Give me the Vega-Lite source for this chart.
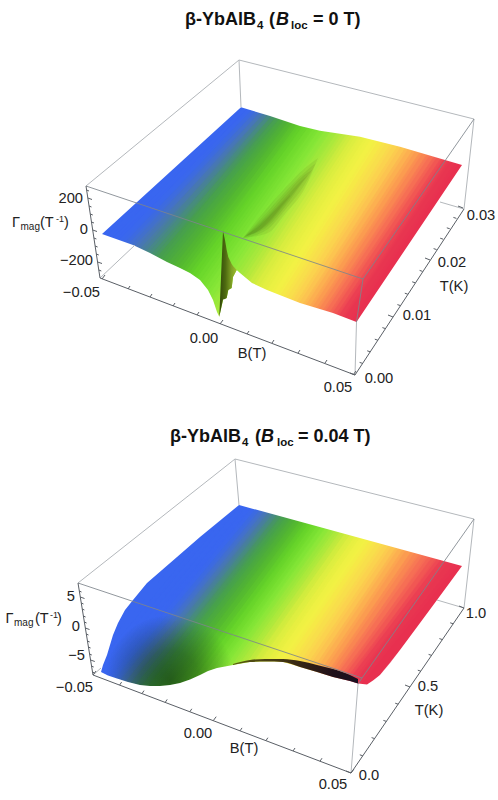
{"$schema":"https://vega.github.io/schema/vega-lite/v6.json","width":498,"height":800,"autosize":{"type":"fit","contains":"padding"},"padding":0,"background":"white","config":{"view":{"stroke":null},"text":{"font":"Liberation Sans"}},
"datasets":{"bandsA":[{"B":-0.05,"x":88,"y":247,"x2":255,"y2":94},{"B":-0.0475,"x":94.4,"y":249.3,"x2":258.5,"y2":94.9},{"B":-0.045,"x":100.9,"y":251.6,"x2":262.2,"y2":95.8},{"B":-0.0425,"x":107.3,"y":253.8,"x2":265.7,"y2":96.7},{"B":-0.04,"x":113.7,"y":256.1,"x2":269.2,"y2":97.6},{"B":-0.0375,"x":120.1,"y":258.4,"x2":273,"y2":98.5},{"B":-0.035,"x":126.6,"y":260.7,"x2":276.8,"y2":99.5},{"B":-0.0325,"x":133,"y":262.9,"x2":280.6,"y2":100.5},{"B":-0.03,"x":139.4,"y":265.2,"x2":284.4,"y2":101.4},{"B":-0.0275,"x":145.8,"y":267.5,"x2":288.1,"y2":102.4},{"B":-0.025,"x":152.3,"y":269.8,"x2":292.1,"y2":103.4},{"B":-0.0225,"x":158.7,"y":272,"x2":296.2,"y2":104.4},{"B":-0.02,"x":165.1,"y":274.3,"x2":300.3,"y2":105.4},{"B":-0.0175,"x":171.5,"y":276.6,"x2":304.7,"y2":106.5},{"B":-0.015,"x":178,"y":278.9,"x2":308.8,"y2":107.6},{"B":-0.0125,"x":162.5,"y":310.4,"x2":313,"y2":108.6},{"B":-0.01,"x":169.3,"y":312.9,"x2":317.1,"y2":109.7},{"B":-0.0075,"x":175.9,"y":315.4,"x2":322.4,"y2":111},{"B":-0.005,"x":182.6,"y":318,"x2":327.6,"y2":112.3},{"B":-0.0025,"x":189.2,"y":320.2,"x2":332.8,"y2":113.6},{"B":0,"x":195.8,"y":322.7,"x2":338.3,"y2":115},{"B":0.0025,"x":202.4,"y":325.2,"x2":343.5,"y2":116.3},{"B":0.005,"x":209.2,"y":327.5,"x2":348.7,"y2":117.7},{"B":0.0075,"x":215.6,"y":330,"x2":354.6,"y2":119.1},{"B":0.01,"x":222.1,"y":332.4,"x2":360.3,"y2":120.6},{"B":0.0125,"x":228.6,"y":334.8,"x2":366.2,"y2":122},{"B":0.015,"x":235.2,"y":337.3,"x2":372.1,"y2":123.5},{"B":0.0175,"x":261.5,"y":308.4,"x2":377.7,"y2":125},{"B":0.02,"x":267.9,"y":310.7,"x2":383.6,"y2":126.5},{"B":0.0225,"x":274.3,"y":313,"x2":391.3,"y2":128.4},{"B":0.025,"x":280.8,"y":315.3,"x2":398.9,"y2":130.3},{"B":0.0275,"x":287.2,"y":317.5,"x2":406.5,"y2":132.2},{"B":0.03,"x":293.6,"y":319.8,"x2":414.1,"y2":134.2},{"B":0.0325,"x":300,"y":322.1,"x2":421.8,"y2":136.1},{"B":0.035,"x":306.5,"y":324.4,"x2":429.4,"y2":138},{"B":0.0375,"x":312.9,"y":326.6,"x2":436.6,"y2":139.8},{"B":0.04,"x":319.3,"y":328.9,"x2":444,"y2":141.7},{"B":0.0425,"x":325.7,"y":331.2,"x2":451.2,"y2":143.5},{"B":0.045,"x":332.2,"y":333.5,"x2":458.4,"y2":145.3},{"B":0.0475,"x":338.6,"y":335.7,"x2":465.8,"y2":147.2},{"B":0.05,"x":345,"y":338,"x2":473,"y2":149}],
"bandsB":[{"B":-0.05,"x":59.2,"y":665.6,"x2":224.8,"y2":465.2},{"B":-0.05,"x":63.2,"y":668.9,"x2":228.8,"y2":468.5},{"B":-0.05,"x":67.2,"y":672.2,"x2":232.8,"y2":471.8},{"B":-0.05,"x":71.2,"y":675.5,"x2":236.8,"y2":475.1},{"B":-0.05,"x":75.2,"y":678.8,"x2":240.8,"y2":478.4},{"B":-0.05,"x":79.2,"y":682.1,"x2":244.8,"y2":481.7},{"B":-0.05,"x":83.2,"y":685.4,"x2":248.8,"y2":485},{"B":-0.05,"x":87.2,"y":688.7,"x2":252.8,"y2":488.3},{"B":-0.0475,"x":92.8,"y":688.8,"x2":257.8,"y2":489.8},{"B":-0.045,"x":98.3,"y":689,"x2":262.7,"y2":491.2},{"B":-0.0425,"x":103.9,"y":689.1,"x2":267.7,"y2":492.7},{"B":-0.04,"x":109.4,"y":689.2,"x2":272.6,"y2":494.3},{"B":-0.0375,"x":115.8,"y":689.4,"x2":276.7,"y2":495.4},{"B":-0.035,"x":122.1,"y":689.6,"x2":280.9,"y2":496.7},{"B":-0.0325,"x":128.5,"y":689.8,"x2":285.1,"y2":498},{"B":-0.03,"x":134.8,"y":690,"x2":289.2,"y2":499.3},{"B":-0.0275,"x":141.1,"y":690.1,"x2":293.4,"y2":500.6},{"B":-0.025,"x":147.5,"y":690.3,"x2":297.5,"y2":501.9},{"B":-0.0225,"x":154.4,"y":690.5,"x2":301.8,"y2":503.2},{"B":-0.02,"x":161.2,"y":690.7,"x2":306.1,"y2":504.5},{"B":-0.0175,"x":168.2,"y":690.9,"x2":310.4,"y2":505.9},{"B":-0.015,"x":175.1,"y":691.1,"x2":314.6,"y2":507.2},{"B":-0.0125,"x":181.9,"y":691.3,"x2":318.9,"y2":508.5},{"B":-0.01,"x":188.8,"y":691.7,"x2":323.2,"y2":509.9},{"B":-0.0075,"x":194.2,"y":691.8,"x2":327.3,"y2":511},{"B":-0.005,"x":199.7,"y":692,"x2":331.3,"y2":512.2},{"B":-0.0025,"x":205.2,"y":692.1,"x2":335.4,"y2":513.5},{"B":0,"x":210.6,"y":692.3,"x2":339.4,"y2":514.7},{"B":0.0025,"x":216.1,"y":692.4,"x2":343.4,"y2":516},{"B":0.005,"x":221.5,"y":692.5,"x2":347.5,"y2":517.2},{"B":0.0075,"x":227.9,"y":692.7,"x2":352.4,"y2":518.7},{"B":0.01,"x":234.5,"y":692.9,"x2":357.2,"y2":520.1},{"B":0.0125,"x":240.9,"y":693.1,"x2":362.1,"y2":521.6},{"B":0.015,"x":247.3,"y":693.2,"x2":367,"y2":523.1},{"B":0.0175,"x":253.9,"y":693.4,"x2":371.8,"y2":524.5},{"B":0.02,"x":260.3,"y":693.6,"x2":376.7,"y2":526},{"B":0.0225,"x":269.2,"y":693.8,"x2":383.8,"y2":528.2},{"B":0.025,"x":277.9,"y":694.1,"x2":390.7,"y2":530.3},{"B":0.0275,"x":286.8,"y":694.3,"x2":397.8,"y2":532.4},{"B":0.03,"x":295.6,"y":694.5,"x2":404.8,"y2":534.6},{"B":0.0325,"x":304.4,"y":694.8,"x2":411.8,"y2":536.6},{"B":0.035,"x":313.2,"y":695,"x2":418.8,"y2":538.8},{"B":0.0375,"x":320.6,"y":695.1,"x2":427.6,"y2":541.3},{"B":0.04,"x":328,"y":695.2,"x2":436.3,"y2":543.9},{"B":0.0425,"x":335.4,"y":695.4,"x2":445.2,"y2":546.5},{"B":0.045,"x":342.7,"y":695.5,"x2":454,"y2":549.1},{"B":0.0475,"x":350.1,"y":695.6,"x2":462.7,"y2":551.6},{"B":0.05,"x":357.5,"y":695.8,"x2":471.5,"y2":554.2},{"B":0.05,"x":366,"y":700,"x2":479,"y2":558}]},
"encoding":{"x":{"field":"x","type":"quantitative","scale":{"domain":[0,498],"nice":false,"zero":false},"axis":null},"y":{"field":"y","type":"quantitative","scale":{"domain":[800,0],"nice":false,"zero":false},"axis":null}},
"layer":[
{"data":{"name":"bandsA"},"mark":{"type":"rule","strokeWidth":9,"strokeCap":"butt"},"encoding":{"x2":{"field":"x2"},"y2":{"field":"y2"},"color":{"field":"B","type":"quantitative","legend":null,"scale":{"domain":[-0.05,-0.041,-0.034,-0.025,-0.017,-0.01,0,0.005,0.012,0.02,0.028,0.034,0.04,0.045,0.05],"range":["#3a66f0","#3a66f0","#4a78b0","#47a04a","#55b830","#66d628","#8be83a","#a8e83c","#dcee40","#f4f245","#fcd050","#fca050","#f56a55","#ea3a52","#e8304f"],"interpolate":"rgb"}}}},
{"data":{"name":"bandsB"},"mark":{"type":"rule","strokeWidth":9,"strokeCap":"butt"},"encoding":{"x2":{"field":"x2"},"y2":{"field":"y2"},"color":{"field":"B","type":"quantitative","legend":null}}},
{"data":{"name":"bandsA"},"mark":{"type":"rule","strokeWidth":15,"strokeCap":"butt","opacity":0.35},"encoding":{"x2":{"field":"x2"},"y2":{"field":"y2"},"color":{"field":"B","type":"quantitative","legend":null}}},
{"data":{"name":"bandsB"},"mark":{"type":"rule","strokeWidth":15,"strokeCap":"butt","opacity":0.35},"encoding":{"x2":{"field":"x2"},"y2":{"field":"y2"},"color":{"field":"B","type":"quantitative","legend":null}}},
{"data":{"values":[{"x":105,"y":615,"y2":745},{"x":235,"y":615,"y2":745}]},"mark":{"type":"area","fill":{"gradient":"radial","x1":0.5,"y1":0.5,"r1":0,"x2":0.5,"y2":0.5,"r2":0.5,"stops":[{"offset":0,"color":"rgba(10,40,10,0.62)"},{"offset":0.45,"color":"rgba(10,40,10,0.42)"},{"offset":1,"color":"rgba(10,40,10,0)"}]}},"encoding":{"y2":{"field":"y2"}}},
{"data":{"values":[{"level":"a","x":243,"y":238,"y2":238},{"level":"a","x":268,"y":207,"y2":233},{"level":"a","x":285,"y":188,"y2":214},{"level":"a","x":305,"y":168,"y2":188},{"level":"a","x":318,"y":158,"y2":158},{"level":"b","x":243,"y":238,"y2":238},{"level":"b","x":268,"y":211,"y2":229},{"level":"b","x":285,"y":192,"y2":210},{"level":"b","x":305,"y":172,"y2":184},{"level":"b","x":316,"y":163,"y2":163},{"level":"c","x":244,"y":237,"y2":237},{"level":"c","x":268,"y":214,"y2":226},{"level":"c","x":285,"y":195,"y2":207},{"level":"c","x":303,"y":176,"y2":182},{"level":"c","x":312,"y":170,"y2":170},{"level":"d","x":245,"y":237,"y2":237},{"level":"d","x":268,"y":216,"y2":224},{"level":"d","x":285,"y":198,"y2":204},{"level":"d","x":300,"y":182,"y2":185},{"level":"d","x":308,"y":175,"y2":175},{"level":"e","x":246,"y":235.5,"y2":235.5},{"level":"e","x":258,"y":227,"y2":231},{"level":"e","x":268,"y":217.5,"y2":222.5},{"level":"e","x":278,"y":207,"y2":211},{"level":"e","x":290,"y":195,"y2":196}]},"mark":{"type":"area","fill":"#2c3000","interpolate":"monotone"},"encoding":{"y2":{"field":"y2"},"opacity":{"field":"level","type":"ordinal","legend":null,"scale":{"domain":["a","b","c","d","e"],"range":[0.07,0.08,0.1,0.14,0.3]}}}},
{"data":{"values":[{"x":40,"y":80,"y2":236},{"x":102,"y":80,"y2":234},{"x":241,"y":80,"y2":107.3},{"x":270,"y":80,"y2":116},{"x":300,"y":80,"y2":126},{"x":320,"y":80,"y2":130.7},{"x":360,"y":80,"y2":136.7},{"x":400,"y":80,"y2":146.7},{"x":462,"y":80,"y2":165},{"x":495,"y":80,"y2":167}]},"mark":{"type":"area","fill":"white"},"encoding":{"y2":{"field":"y2"}}},
{"data":{"values":[{"x":40,"y":232,"y2":350},{"x":102,"y":234,"y2":350},{"x":133,"y":245,"y2":350},{"x":150,"y":253,"y2":350},{"x":167,"y":262,"y2":350},{"x":180,"y":268,"y2":350},{"x":190,"y":273,"y2":350},{"x":200,"y":280,"y2":350},{"x":208,"y":290,"y2":350},{"x":213,"y":300,"y2":350},{"x":217,"y":312,"y2":350},{"x":219.3,"y":316.7,"y2":350},{"x":223.3,"y":299,"y2":350},{"x":226.7,"y":298,"y2":350},{"x":228.3,"y":290,"y2":350},{"x":231.7,"y":288,"y2":350},{"x":233,"y":277,"y2":350},{"x":236.7,"y":270,"y2":350},{"x":240,"y":273,"y2":350},{"x":252,"y":283,"y2":350},{"x":267,"y":290,"y2":350},{"x":300,"y":303,"y2":350},{"x":333,"y":313,"y2":350},{"x":356.5,"y":322,"y2":350},{"x":462,"y":165,"y2":350},{"x":495,"y":163,"y2":350}]},"mark":{"type":"area","fill":"white"},"encoding":{"y2":{"field":"y2"}}},
{"data":{"values":[{"x":219.3,"y":316.7,"y2":316.7},{"x":223,"y":231,"y2":299.5},{"x":225,"y":240,"y2":299},{"x":226.7,"y":250,"y2":298},{"x":228.3,"y":257,"y2":290},{"x":231.7,"y":264,"y2":288},{"x":233,"y":266,"y2":277},{"x":236.7,"y":270,"y2":270}]},"mark":{"type":"area","fill":{"gradient":"linear","x1":0,"y1":0,"x2":1,"y2":0,"stops":[{"offset":0,"color":"#33480a"},{"offset":0.35,"color":"#4d6a10"},{"offset":0.7,"color":"#7ea024"},{"offset":1,"color":"#9fbc30"}]}},"encoding":{"y2":{"field":"y2"}}},
{"data":{"values":[{"x":40,"y":450,"y2":674},{"x":101,"y":450,"y2":672},{"x":103,"y":450,"y2":665},{"x":105,"y":450,"y2":660},{"x":107,"y":450,"y2":655},{"x":110,"y":450,"y2":645},{"x":113,"y":450,"y2":635},{"x":118,"y":450,"y2":623},{"x":125,"y":450,"y2":610},{"x":133,"y":450,"y2":600},{"x":147,"y":450,"y2":583},{"x":162,"y":450,"y2":570},{"x":177,"y":450,"y2":557},{"x":200,"y":450,"y2":537},{"x":239,"y":450,"y2":505},{"x":462,"y":450,"y2":566},{"x":495,"y":450,"y2":568}]},"mark":{"type":"area","fill":"white"},"encoding":{"y2":{"field":"y2"}}},
{"data":{"values":[{"x":40,"y":670,"y2":750},{"x":101,"y":672,"y2":750},{"x":108,"y":675.5,"y2":750},{"x":117,"y":678.5,"y2":750},{"x":128,"y":682,"y2":750},{"x":140,"y":685,"y2":750},{"x":150,"y":686,"y2":750},{"x":160,"y":686,"y2":750},{"x":170,"y":685,"y2":750},{"x":180,"y":683,"y2":750},{"x":190,"y":679.5,"y2":750},{"x":200,"y":675,"y2":750},{"x":208,"y":671,"y2":750},{"x":217,"y":668,"y2":750},{"x":225,"y":666.5,"y2":750},{"x":233,"y":665,"y2":750},{"x":250,"y":662,"y2":750},{"x":265,"y":661.5,"y2":750},{"x":275,"y":661.5,"y2":750},{"x":283,"y":662,"y2":750},{"x":292,"y":664.5,"y2":750},{"x":300,"y":667,"y2":750},{"x":317,"y":672,"y2":750},{"x":333,"y":677,"y2":750},{"x":350,"y":681,"y2":750},{"x":358,"y":683.5,"y2":750},{"x":367,"y":684.5,"y2":750},{"x":373,"y":680.5,"y2":750},{"x":380,"y":675,"y2":750},{"x":390,"y":663,"y2":750},{"x":400,"y":650,"y2":750},{"x":420,"y":623,"y2":750},{"x":437,"y":600,"y2":750},{"x":462,"y":566,"y2":750},{"x":495,"y":564,"y2":750}]},"mark":{"type":"area","fill":"white"},"encoding":{"y2":{"field":"y2"}}},
{"data":{"values":[{"x":233,"y":664,"y2":665},{"x":250,"y":660,"y2":662},{"x":265,"y":659,"y2":661.5},{"x":283,"y":659,"y2":662},{"x":300,"y":661,"y2":667},{"x":317,"y":665,"y2":672},{"x":333,"y":669,"y2":677},{"x":350,"y":675,"y2":681},{"x":358,"y":679,"y2":683.5}]},"mark":{"type":"area","interpolate":"monotone","fill":{"gradient":"linear","x1":0,"y1":0,"x2":1,"y2":0,"stops":[{"offset":0,"color":"#5a5a10"},{"offset":0.5,"color":"#3a2a14"},{"offset":0.8,"color":"#20101a"},{"offset":1,"color":"#1a1020"}]}},"encoding":{"y2":{"field":"y2"}}},
{"data":{"values":[{"x":239,"y":60,"x2":241,"y2":107},{"x":239,"y":60,"x2":86,"y2":186},{"x":239,"y":60,"x2":474,"y2":119},{"x":474,"y":119,"x2":464,"y2":209},{"x":464,"y":209,"x2":440,"y2":202},{"x":100,"y":278,"x2":135,"y2":245},{"x":356.5,"y":322,"x2":355,"y2":375},{"x":235,"y":459,"x2":239,"y2":505},{"x":235,"y":459,"x2":78,"y2":583},{"x":235,"y":459,"x2":474,"y2":519},{"x":474,"y":519,"x2":464,"y2":608},{"x":464,"y":608,"x2":437,"y2":600},{"x":93,"y":675,"x2":101,"y2":668},{"x":358,"y":684,"x2":351,"y2":773}]},"mark":{"type":"rule","stroke":"#b4b8bc","strokeWidth":1},"encoding":{"x2":{"field":"x2"},"y2":{"field":"y2"}}},
{"data":{"values":[{"x":86,"y":186,"x2":363,"y2":279},{"x":363,"y":279,"x2":474,"y2":119},{"x":363,"y":279,"x2":356.5,"y2":322},{"x":78,"y":583,"x2":362,"y2":678},{"x":362,"y":678,"x2":474,"y2":519},{"x":362,"y":678,"x2":358,"y2":684}]},"mark":{"type":"rule","stroke":"#7e858c","strokeWidth":1,"opacity":0.85},"encoding":{"x2":{"field":"x2"},"y2":{"field":"y2"}}},
{"data":{"values":[{"x":86,"y":186,"x2":100,"y2":278},{"x":100,"y":278,"x2":355,"y2":375},{"x":355,"y":375,"x2":464,"y2":209},{"x":78,"y":583,"x2":93,"y2":675},{"x":93,"y":675,"x2":351,"y2":773},{"x":351,"y":773,"x2":464,"y2":608},
{"x":102,"y":279,"x2":105,"y2":275},{"x":128,"y":289,"x2":130,"y2":286},{"x":150,"y":297,"x2":152,"y2":294},{"x":173,"y":306,"x2":175,"y2":303},{"x":197,"y":315,"x2":199,"y2":312},{"x":220,"y":324,"x2":223,"y2":320},{"x":247,"y":334,"x2":249,"y2":331},{"x":272,"y":343,"x2":274,"y2":340},{"x":298,"y":353,"x2":300,"y2":350},{"x":325,"y":363,"x2":327,"y2":360},{"x":353,"y":375,"x2":356,"y2":371},
{"x":355,"y":375,"x2":350,"y2":373},{"x":362.6,"y":363.4,"x2":359.6,"y2":362.4},{"x":370.2,"y":351.8,"x2":367.2,"y2":350.8},{"x":377.8,"y":340.2,"x2":374.8,"y2":339.2},{"x":385.4,"y":328.6,"x2":382.4,"y2":327.6},{"x":393,"y":317,"x2":388,"y2":315},{"x":400.4,"y":305.6,"x2":397.4,"y2":304.6},{"x":407.8,"y":294.2,"x2":404.8,"y2":293.2},{"x":415.2,"y":282.8,"x2":412.2,"y2":281.8},{"x":422.6,"y":271.4,"x2":419.6,"y2":270.4},{"x":430,"y":260,"x2":425,"y2":258},{"x":436.6,"y":249.6,"x2":433.6,"y2":248.6},{"x":443.2,"y":239.2,"x2":440.2,"y2":238.2},{"x":449.8,"y":228.8,"x2":446.8,"y2":227.8},{"x":456.4,"y":218.4,"x2":453.4,"y2":217.4},{"x":463,"y":208,"x2":458,"y2":206},
{"x":86.6,"y":190,"x2":89,"y2":191},{"x":87.8,"y":198,"x2":92,"y2":199.5},{"x":89,"y":206,"x2":91.5,"y2":207},{"x":90.3,"y":214,"x2":92.8,"y2":215},{"x":91.5,"y":222,"x2":94,"y2":223},{"x":92.7,"y":230,"x2":97,"y2":231.5},{"x":93.9,"y":238,"x2":96.4,"y2":239},{"x":95.1,"y":246,"x2":97.6,"y2":247},{"x":96.3,"y":254,"x2":98.8,"y2":255},{"x":97.6,"y":262,"x2":102,"y2":263.5},{"x":98.8,"y":270,"x2":101.3,"y2":271},
{"x":93,"y":675,"x2":96,"y2":671},{"x":119.6,"y":685.1,"x2":121.6,"y2":682.1},{"x":142,"y":693.6,"x2":144,"y2":690.6},{"x":165.2,"y":702.4,"x2":167.2,"y2":699.4},{"x":189.8,"y":711.8,"x2":191.8,"y2":708.8},{"x":213.2,"y":720.7,"x2":216.2,"y2":716.7},{"x":240,"y":730.9,"x2":242,"y2":727.9},{"x":265.9,"y":740.7,"x2":267.9,"y2":737.7},{"x":293,"y":751,"x2":295,"y2":748},{"x":320,"y":761.2,"x2":322,"y2":758.2},{"x":351,"y":773,"x2":354,"y2":769},
{"x":351,"y":773,"x2":346,"y2":771},{"x":362.8,"y":755.8,"x2":359.8,"y2":754.8},{"x":374.6,"y":738.6,"x2":371.6,"y2":737.6},{"x":386.4,"y":721.4,"x2":383.4,"y2":720.4},{"x":398.2,"y":704.2,"x2":395.2,"y2":703.2},{"x":410,"y":687,"x2":405,"y2":685},{"x":420.8,"y":671.2,"x2":417.8,"y2":670.2},{"x":431.6,"y":655.4,"x2":428.6,"y2":654.4},{"x":442.4,"y":639.6,"x2":439.4,"y2":638.6},{"x":453.2,"y":623.8,"x2":450.2,"y2":622.8},{"x":464,"y":608,"x2":459,"y2":606},
{"x":79.3,"y":591,"x2":81.5,"y2":592},{"x":80.3,"y":597,"x2":84.5,"y2":598.5},{"x":81.3,"y":603,"x2":83.5,"y2":604},{"x":82.2,"y":609,"x2":84.4,"y2":610},{"x":83.4,"y":616,"x2":85.6,"y2":617},{"x":84.4,"y":622,"x2":86.6,"y2":623},{"x":85.3,"y":628,"x2":89.5,"y2":629.5},{"x":86.3,"y":634,"x2":88.5,"y2":635},{"x":87.5,"y":641,"x2":89.7,"y2":642},{"x":88.4,"y":647,"x2":90.6,"y2":648},{"x":89.6,"y":654,"x2":91.8,"y2":655},{"x":90.6,"y":660,"x2":94.8,"y2":661.5},{"x":91.5,"y":666,"x2":93.7,"y2":667},{"x":92.5,"y":672,"x2":94.7,"y2":673}]},"mark":{"type":"rule","stroke":"#5a5f66","strokeWidth":1},"encoding":{"x2":{"field":"x2"},"y2":{"field":"y2"}}},
{"data":{"values":[{"x":185,"y":25,"t":"β-YbAlB"},{"x":269,"y":25,"t":"("},{"x":313,"y":25,"t":"= 0 T)"},{"x":170,"y":442,"t":"β-YbAlB"},{"x":255,"y":442,"t":"("},{"x":298,"y":442,"t":"= 0.04 T)"}]},"mark":{"type":"text","fontSize":18,"fontWeight":"bold","align":"left","baseline":"alphabetic","color":"#111"},"encoding":{"text":{"field":"t"}}},
{"data":{"values":[{"x":276,"y":25,"t":"B"},{"x":261,"y":442,"t":"B"}]},"mark":{"type":"text","fontSize":18,"fontWeight":"bold","fontStyle":"italic","align":"left","baseline":"alphabetic","color":"#111"},"encoding":{"text":{"field":"t"}}},
{"data":{"values":[{"x":257,"y":29,"t":"4"},{"x":291,"y":29,"t":"loc"},{"x":242,"y":446,"t":"4"},{"x":277,"y":446,"t":"loc"}]},"mark":{"type":"text","fontSize":11.5,"fontWeight":"bold","align":"left","baseline":"alphabetic","color":"#111"},"encoding":{"text":{"field":"t"}}},
{"data":{"values":[{"x":83,"y":203,"t":"200"},{"x":88,"y":234,"t":"0"},{"x":93,"y":265,"t":"−200"},{"x":100,"y":297,"t":"−0.05"},{"x":75,"y":601,"t":"5"},{"x":80,"y":631,"t":"0"},{"x":85,"y":660,"t":"−5"},{"x":93,"y":692,"t":"−0.05"}]},"mark":{"type":"text","fontSize":14.7,"align":"right","baseline":"alphabetic","color":"#222"},"encoding":{"text":{"field":"t"}}},
{"data":{"values":[{"x":204,"y":343,"t":"0.00"},{"x":252,"y":358,"t":"B(T)"},{"x":338,"y":392,"t":"0.05"},{"x":379,"y":383,"t":"0.00"},{"x":417,"y":320,"t":"0.01"},{"x":454,"y":291,"t":"T(K)"},{"x":452,"y":267,"t":"0.02"},{"x":481,"y":220,"t":"0.03"},{"x":198,"y":738,"t":"0.00"},{"x":244,"y":753,"t":"B(T)"},{"x":333,"y":789,"t":"0.05"},{"x":369,"y":780,"t":"0.0"},{"x":428,"y":691,"t":"0.5"},{"x":429,"y":715,"t":"T(K)"},{"x":476,"y":618,"t":"1.0"}]},"mark":{"type":"text","fontSize":14.7,"align":"center","baseline":"alphabetic","color":"#222"},"encoding":{"text":{"field":"t"}}},
{"data":{"values":[{"x":12,"y":227,"t":"Γ"},{"x":40,"y":227,"t":"(T"},{"x":64,"y":227,"t":")"},{"x":5.5,"y":623,"t":"Γ"},{"x":35,"y":623,"t":"(T"},{"x":57,"y":623,"t":")"}]},"mark":{"type":"text","fontSize":14.5,"align":"left","baseline":"alphabetic","color":"#222"},"encoding":{"text":{"field":"t"}}},
{"data":{"values":[{"x":20.5,"y":230,"t":"mag"},{"x":14,"y":626,"t":"mag"}]},"mark":{"type":"text","fontSize":10,"align":"left","baseline":"alphabetic","color":"#222"},"encoding":{"text":{"field":"t"}}},
{"data":{"values":[{"x":56,"y":222,"t":"-1"},{"x":50,"y":618,"t":"-1"}]},"mark":{"type":"text","fontSize":9,"align":"left","baseline":"alphabetic","color":"#222"},"encoding":{"text":{"field":"t"}}}
]}
